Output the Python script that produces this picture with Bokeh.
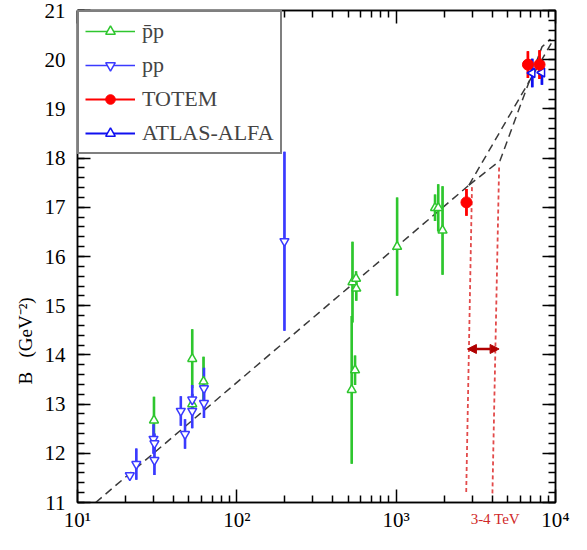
import numpy as np
from bokeh.plotting import figure
from bokeh.models import (LinearAxis, LogAxis, Legend, LegendItem, Arrow, Title,
                          NormalHead, CustomJSTickFormatter, FixedTicker)
from bokeh.embed import file_html
from bokeh.resources import INLINE

# ---------------- data ----------------
pbarp_x = [30.2, 52.5, 52.5, 61.8, 526, 552, 532, 560, 562, 1014, 1754, 1837, 1955]
pbarp_y = [12.67, 13.92, 13.00, 13.46, 13.29, 13.69, 15.48, 15.55, 15.35, 16.20, 16.99, 16.99, 16.53]
pbarp_e = [0.48, 0.60, 0.20, 0.50, 1.50, 0.30, 0.82, 0.15, 0.25, 1.00, 0.27, 0.48, 0.90]

pp_x = [21.3, 23.4, 30.0, 30.4, 30.4, 44.5, 47.3, 52.5, 52.5, 62.2, 62.2, 199]
pp_y = [11.55, 11.78, 12.29, 12.20, 11.86, 12.86, 12.39, 13.09, 12.86, 13.32, 13.02, 16.31]
pp_e = [0.03, 0.32, 0.30, 0.20, 0.30, 0.30, 0.30, 0.30, 0.35, 0.42, 0.30, 1.82]

totem_x = [2761, 6714, 7940]
totem_y = [17.10, 19.90, 19.90]
totem_e = [0.27, 0.27, 0.29]

alfa_x = [7145, 8222]
alfa_y = [19.73, 19.74]
alfa_e = [0.29, 0.25]

fit_x = [13, 2864]
fit_y = [11.0, 17.45]
fitA_x = [2864, 4487, 8222, 9300]
fitA_y = [17.45, 17.95, 20.26, 20.42]
fitB_x = [2864, 9594]
fitB_y = [17.45, 20.38]

band_x_top = [2991, 4426]
band_y_top = [17.41, 17.81]
band_x_bot = [2750, 4018]
band_y_bot = [11.16, 11.16]
arrow_x = [2800, 4426]
arrow_y = 14.12
band_text = "3-4 TeV"
band_text_x = [4190]

x_ticks = [10, 100, 1000, 10000]
y_ticks = list(range(11, 22))

legend_labels = ["p\u0304p", "pp", "TOTEM", "ATLAS-ALFA"]
y_title = "B\u00a0\u00a0\u00a0(GeV\u207b\u00b2)"

# ---------------- style ----------------
FONT = "Liberation Serif"
GREEN = "#2ec62e"
BLUE_PP = "#3a3aff"
BLUE_ALFA = "#1010f0"
RED = "#ff0000"

p = figure(width=571, height=534, x_axis_type="log",
           x_range=(10, 1e4), y_range=(11, 21),
           output_backend="svg", toolbar_location=None,
           min_border_left=77, min_border_right=16,
           min_border_top=10, min_border_bottom=29)
p.xgrid.visible = False
p.ygrid.visible = False
p.outline_line_color = "black"
p.outline_line_width = 1.5

minor_x = [k * 10 ** n for n in range(1, 4) for k in range(2, 10)]
minor_y = list(np.round(np.arange(11, 21.001, 0.2), 2))
xticker = FixedTicker(ticks=x_ticks, minor_ticks=minor_x)
yticker = FixedTicker(ticks=y_ticks, minor_ticks=minor_y)

sup = CustomJSTickFormatter(code="""
const m = {'0':'\u2070','1':'\u00b9','2':'\u00b2','3':'\u00b3','4':'\u2074','5':'\u2075'};
const e = Math.round(Math.log10(tick)).toString();
let s = '';
for (const c of e) { s += m[c]; }
return '10' + s;
""")
blank = CustomJSTickFormatter(code="return '';")

def style_axis(ax):
    ax.axis_line_color = "black"
    ax.axis_line_width = 1.5
    ax.major_tick_line_color = "black"
    ax.major_tick_line_width = 1.5
    ax.minor_tick_line_color = "black"
    ax.minor_tick_line_width = 1.5
    ax.major_tick_in = 13
    ax.major_tick_out = 0
    ax.minor_tick_in = 7
    ax.minor_tick_out = 0
    ax.major_label_text_font = FONT
    ax.major_label_text_font_size = "21px"
    ax.major_label_text_color = "black"

p.xaxis.ticker = xticker
p.xaxis.formatter = sup
p.yaxis.ticker = yticker
style_axis(p.xaxis[0])
style_axis(p.yaxis[0])
p.xaxis.major_label_standoff = 5
p.yaxis.major_label_standoff = 12

ra = LinearAxis(ticker=yticker, formatter=blank)
style_axis(ra)
ra.major_label_standoff = 0
p.add_layout(ra, "right")
ta = LogAxis(ticker=xticker, formatter=blank)
style_axis(ta)
ta.major_label_standoff = 0
p.add_layout(ta, "above")

# "3-4 TeV" as a label-only axis tucked up under the main x axis
tev_axis = LogAxis(ticker=FixedTicker(ticks=band_text_x, minor_ticks=[]),
                   formatter=CustomJSTickFormatter(args=dict(t=band_text), code="return t;"))
tev_axis.axis_line_color = None
tev_axis.major_tick_line_color = None
tev_axis.minor_tick_line_color = None
tev_axis.major_tick_in = 0
tev_axis.major_tick_out = 0
tev_axis.minor_tick_in = 0
tev_axis.minor_tick_out = 0
tev_axis.major_label_text_font = FONT
tev_axis.major_label_text_font_size = "15px"
tev_axis.major_label_text_color = "#d02828"
tev_axis.major_label_standoff = -24
p.add_layout(tev_axis, "below")

# y axis title
yt = Title(text=y_title, align="left", offset=118, vertical_align="top", standoff=8,
           text_font=FONT, text_font_size="19px", text_font_style="normal",
           text_color="black")
p.add_layout(yt, "left")

# fit lines
for fx, fy in [(fit_x, fit_y), (fitA_x, fitA_y), (fitB_x, fitB_y)]:
    p.line(fx, fy, line_color="#3a3a3a", line_width=1.5, line_dash="8 5")

# 3-4 TeV band
p.segment(x0=band_x_top, y0=band_y_top, x1=band_x_bot, y1=band_y_bot,
          line_color="#e24a4a", line_width=1.8, line_dash="4 3")
p.add_layout(Arrow(x_start=arrow_x[0], y_start=arrow_y, x_end=arrow_x[1], y_end=arrow_y,
                   line_color="#b00000", line_width=2.5,
                   start=NormalHead(size=9, fill_color="#b00000", line_color="#b00000"),
                   end=NormalHead(size=9, fill_color="#b00000", line_color="#b00000")))

def errs(x, y, e, color, width):
    lo = [a - b for a, b in zip(y, e)]
    hi = [a + b for a, b in zip(y, e)]
    return p.segment(x0=x, y0=lo, x1=x, y1=hi, line_color=color, line_width=width)

# thin copies (hidden beneath the thick bars) give the legend its thin line samples
l_g = errs(pbarp_x, pbarp_y, pbarp_e, GREEN, 1.6)
l_b = errs(pp_x, pp_y, pp_e, BLUE_PP, 1.6)
l_a = errs(alfa_x, alfa_y, alfa_e, BLUE_ALFA, 2.2)
l_r = errs(totem_x, totem_y, totem_e, RED, 2.2)

errs(pbarp_x, pbarp_y, pbarp_e, GREEN, 2.6)
errs(pp_x, pp_y, pp_e, BLUE_PP, 2.6)
errs(alfa_x, alfa_y, alfa_e, BLUE_ALFA, 2.6)
errs(totem_x, totem_y, totem_e, RED, 2.6)

m_g = p.scatter(pbarp_x, pbarp_y, marker="triangle", size=9, fill_color="white",
                line_color=GREEN, line_width=1.5)
m_b = p.scatter(pp_x, pp_y, marker="inverted_triangle", size=9, fill_color="white",
                line_color=BLUE_PP, line_width=1.5)
m_a = p.scatter(alfa_x, alfa_y, marker="triangle", angle=np.pi / 2, size=9,
                fill_color="white", line_color=BLUE_ALFA, line_width=1.5)
m_r = p.scatter(totem_x, totem_y, marker="circle", size=11, fill_color=RED,
                line_color=RED)

legend = Legend(items=[
    LegendItem(label=legend_labels[0], renderers=[l_g, m_g]),
    LegendItem(label=legend_labels[1], renderers=[l_b, m_b]),
    LegendItem(label=legend_labels[2], renderers=[l_r, m_r]),
    LegendItem(label=legend_labels[3], renderers=[l_a, m_a]),
], location="top_left")
legend.margin = 0
legend.padding = 6
legend.spacing = 8
legend.glyph_width = 50
legend.glyph_height = 24
legend.label_height = 24
legend.label_standoff = 7
legend.label_text_font = FONT
legend.label_text_font_size = "22px"
legend.border_line_color = "black"
legend.border_line_width = 2
legend.background_fill_alpha = 1.0
p.add_layout(legend)

open("out.html", "w").write(file_html(p, INLINE))
